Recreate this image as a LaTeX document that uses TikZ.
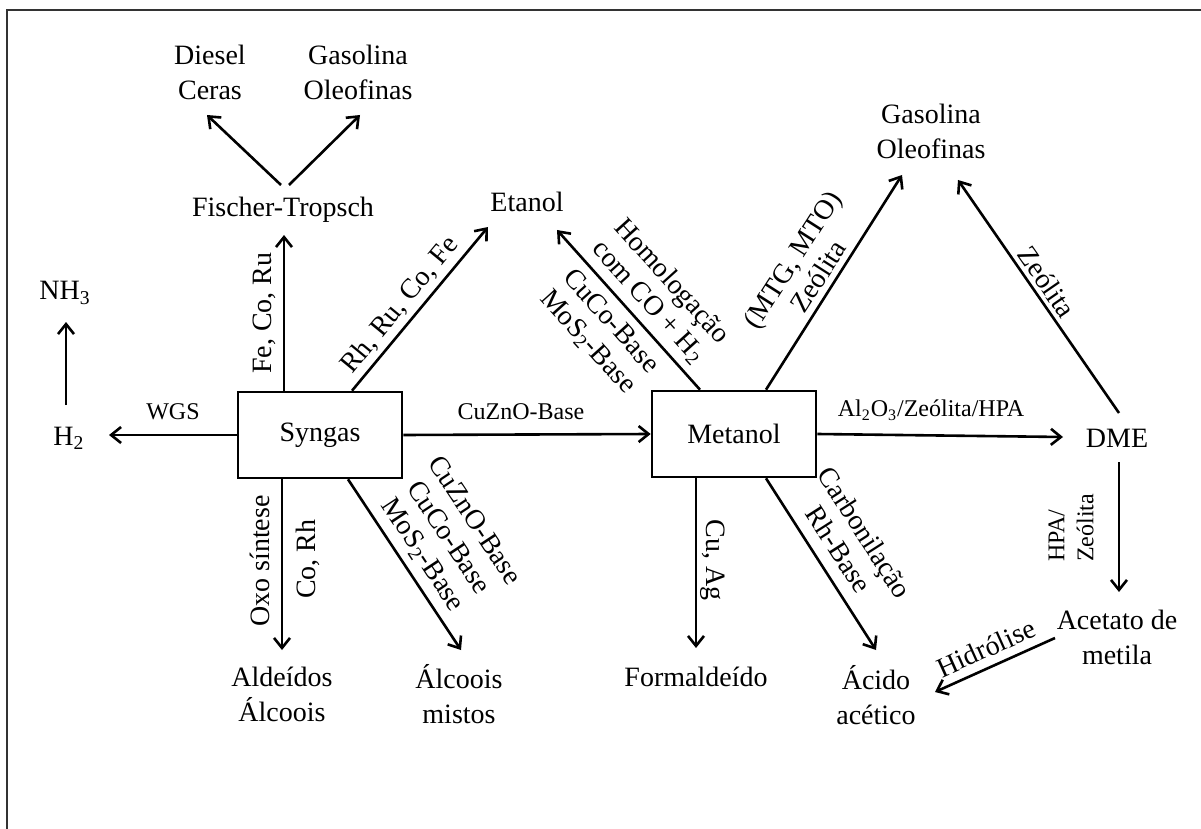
\documentclass[tikz,border=0pt]{standalone}
\usepackage{fontspec}
\setmainfont{Liberation Serif}
\usetikzlibrary{arrows.meta}

\begin{document}
\begin{tikzpicture}
  [x=0.5pt,y=-0.5pt,
   every node/.style={font=\fontsize{14}{17.5}\selectfont, align=center, inner sep=0pt},
   box/.style={draw, line width=1.3pt, minimum width=82pt, minimum height=43pt},
   lbl/.style={font=\fontsize{14}{15.5}\selectfont},
   small/.style={font=\fontsize{12}{14.5}\selectfont},
   arr/.style={-{Straight Barb[length=5pt,width=8pt]}, line width=1.3pt}]

 \useasboundingbox (0,0) rectangle (1201,829);
 \draw[line width=1.2pt, black!80] (7,829) -- (7,10) -- (1201,10);

 % reactors
 \node[box] (syn) at (320,435) {Syngas};
 \node[box] (met) at (734,434) {Metanol};

 % products
 \node (diesel) at (210,72) {Diesel\\Ceras};
 \node (gasa) at (358,72) {Gasolina\\Oleofinas};
 \node (ft) at (283,210) {Fischer-Tropsch};
 \node (etanol) at (527,202) {Etanol};
 \node (gasb) at (931,131) {Gasolina\\Oleofinas};
 \node (nh) at (65,293) {NH\textsubscript{3}};
 \node (h) at (69,438) {H\textsubscript{2}};
 \node (dme) at (1117,438) {DME};
 \node (acet) at (1117,637) {Acetato de\\metila};
 \node (acido) at (876,695) {Ácido\\acético};
 \node (form) at (696,677) {Formaldeído};
 \node (ald) at (282,694) {Aldeídos\\Álcoois};
 \node (mist) at (459,694) {Álcoois\\mistos};

 % arrow ends
 \coordinate (ftS) at (284,235);
 \coordinate (ftL) at (281,185);
 \coordinate (ftR) at (289,185);
 \coordinate (dieselS) at (207,115);
 \coordinate (gasaS) at (360,115);
 \coordinate (etanolL) at (488,227);
 \coordinate (etanolR) at (557,230);
 \coordinate (nhS) at (66,322);
 \coordinate (hN) at (66,405);
 \coordinate (hE) at (109,435);
 \coordinate (dmeW) at (1063,437);
 \coordinate (dmeN) at (1119,413);
 \coordinate (dmeS) at (1119,462);
 \coordinate (gasbL) at (902,175);
 \coordinate (gasbR) at (958,180);
 \coordinate (acetN) at (1119,592);
 \coordinate (acetW) at (1055,638);
 \coordinate (acidoN) at (876,650);
 \coordinate (acidoE) at (935,692);
 \coordinate (formN) at (696,648);
 \coordinate (aldN) at (282,650);
 \coordinate (mistN) at (461,650);

 \coordinate (synN1) at ([xshift=-18pt]syn.north);
 \coordinate (synN2) at ([xshift=16pt]syn.north);
 \coordinate (synS1) at ([xshift=-19pt]syn.south);
 \coordinate (synS2) at ([xshift=14pt]syn.south);
 \coordinate (metN1) at ([xshift=-17pt]met.north);
 \coordinate (metN2) at ([xshift=16pt]met.north);
 \coordinate (metS1) at ([xshift=-19pt]met.south);
 \coordinate (metS2) at ([xshift=16pt]met.south);

 \foreach \from/\to in {synN1/ftS, ftL/dieselS, ftR/gasaS, synN2/etanolL, hN/nhS,
                        syn.west/hE, syn.east/met.west, met.east/dmeW, metN1/etanolR,
                        metN2/gasbL, dmeN/gasbR, dmeS/acetN, acetW/acidoE,
                        metS2/acidoN, metS1/formN, synS1/aldN, synS2/mistN}
   \draw[arr] (\from) -- (\to);

 % catalysts
 \node[lbl, rotate=90] (fe) at (264,313) {Fe, Co, Ru};
 \node[lbl, rotate=50.5] (rh) at (400,305) {Rh, Ru, Co, Fe};
 \node[small] (wgs) at (173,412) {WGS};
 \node[small] (cuzno) at (521,412) {CuZnO-Base};
 \node[small] (alo) at (931,410) {Al\textsubscript{2}O\textsubscript{3}/Zeólita/HPA};
 \node[lbl, rotate=-48] (homol) at (660,292) {Homologação\\com CO + H\textsubscript{2}};
 \node[lbl, rotate=-48] (cuco) at (599,332) {CuCo-Base\\MoS\textsubscript{2}-Base};
 \node[lbl, rotate=57.4] (mtg) at (805,268) {(MTG, MTO)\\Zeólita};
 \node[lbl, rotate=-55.4] (zeo) at (1047,282) {Zeólita};
 \node[small, rotate=90, align=left] (hpa) at (1071,528) {HPA/\\Zeólita};
 \node[lbl, rotate=-90] (cuag) at (713,560) {Cu, Ag};
 \node[lbl, rotate=-57.4] (carb) at (852,541) {Carbonilação\\Rh-Base};
 \node[lbl, rotate=-56.5] (mix) at (448,538) {CuZnO-Base\\CuCo-Base\\MoS\textsubscript{2}-Base};
 \node[lbl, rotate=90] (oxo) at (260,561) {Oxo síntese};
 \node[lbl, rotate=90] (corh) at (308,559) {Co, Rh};
 \node[lbl, rotate=24.2] (hidro) at (986,648) {Hidrólise};

\end{tikzpicture}
\end{document}
